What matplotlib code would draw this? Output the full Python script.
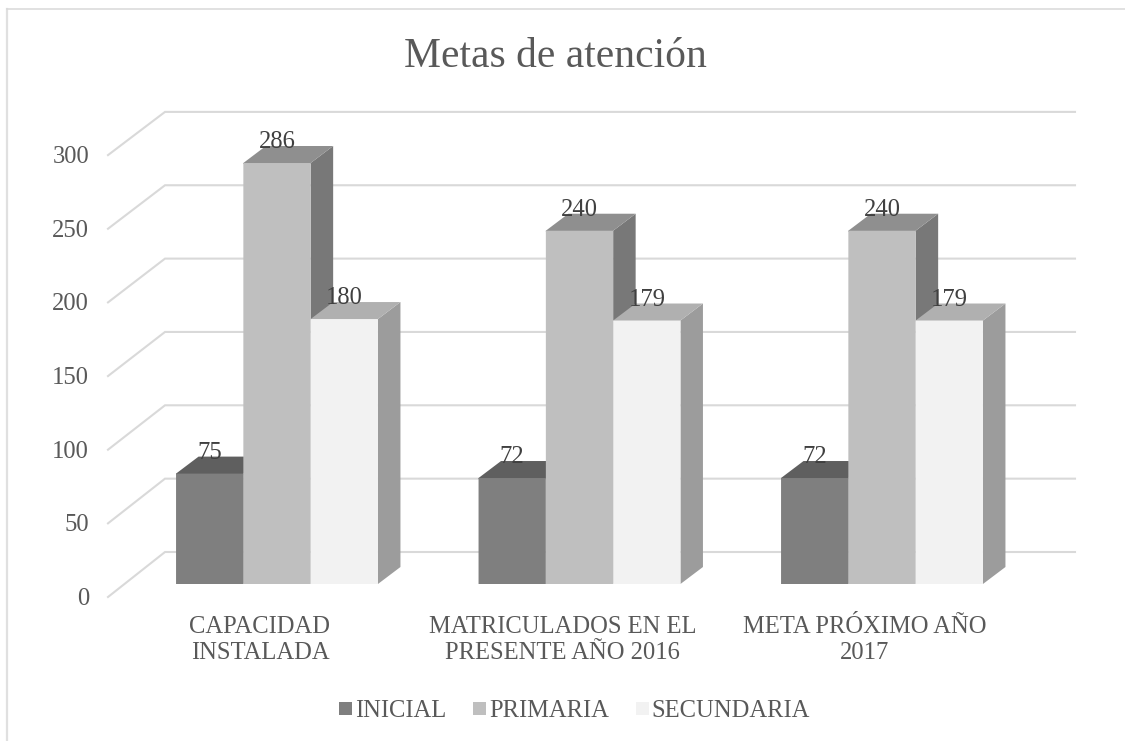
import matplotlib

matplotlib.use("Agg")
import matplotlib.pyplot as plt
from matplotlib.patches import Patch, Polygon, Rectangle

CATEGORIES = ["CAPACIDAD\nINSTALADA", "MATRICULADOS EN EL\nPRESENTE AÑO 2016", "META PRÓXIMO AÑO\n2017"]
SERIES = ["INICIAL", "PRIMARIA", "SECUNDARIA"]
INICIAL = [75, 72, 72]
PRIMARIA = [286, 240, 240]
SECUNDARIA = [180, 179, 179]
YTICKS = [0, 50, 100, 150, 200, 250, 300]

FRONT = ["#7f7f7f", "#bfbfbf", "#f2f2f2"]
TOP = ["#5f5f5f", "#8f8f8f", "#b0b0b0"]
SIDE = ["#666666", "#787878", "#9c9c9c"]
GRID = "#d9d9d9"
TXT = "#595959"

W, H = 1125, 741
X0, XSTEP = 277.0, 302.5  # pixel of first category, pixels per category
Y0, YSCALE = 584.0, 1.472  # pixel of value 0, pixels per unit

plt.rcParams["font.family"] = ["Liberation Serif", "DejaVu Serif"]
plt.rcParams["font.size"] = 17.7

fig = plt.figure(figsize=(W / 100, H / 100), dpi=100)
ax = fig.add_axes([0, 0, 1, 1])
ax.set_xlim(-X0 / XSTEP, (W - X0) / XSTEP)
ax.set_ylim((Y0 - H) / YSCALE, Y0 / YSCALE)
ax.axis("off")


def dx(px):
    return px / XSTEP


def dy(px):
    return px / YSCALE


# chart frame
fig.add_artist(plt.Line2D([7 / W, 7 / W], [0, 1 - 9 / H], color="#e0e0e0", lw=1.6))
fig.add_artist(plt.Line2D([7 / W, 1], [1 - 9 / H, 1 - 9 / H], color=GRID, lw=1.1))

# gridlines on the floor edge and back wall
x_front, x_back, x_end = dx(108 - X0), dx(165 - X0), dx(1075 - X0)
for v in YTICKS:
    y_front = v * 1.473 / YSCALE - dy(13)
    y_back = v * 1.467 / YSCALE + dy(32)
    ax.plot([x_front, x_back, x_end], [y_front, y_back, y_back], color=GRID, lw=1.5,
            solid_joinstyle="miter", zorder=1)
    ax.text(dx(89 - X0), y_front - dy(2), str(v), ha="right", va="center", color=TXT)

# 3d bars
bw = dx(67.3)
depth_x, depth_y = dx(22.5), dy(17)
for s, values in enumerate([INICIAL, PRIMARIA, SECUNDARIA]):
    for c, v in enumerate(values):
        left = c + (s - 1.5) * bw
        right = left + bw
        z = 2 + c + s * 0.1
        ax.add_patch(Polygon([(right, 0), (right + depth_x, depth_y), (right + depth_x, v + depth_y), (right, v)],
                             fc=SIDE[s], ec="none", zorder=z))
        # top face runs a pixel under the front face so no seam shows
        ax.add_patch(Polygon([(left, v - dy(1)), (left, v), (left + depth_x, v + depth_y),
                              (right + depth_x, v + depth_y), (right, v), (right, v - dy(1))],
                             fc=TOP[s], ec="none", zorder=z))
        ax.add_patch(Rectangle((left, 0), bw, v, fc=FRONT[s], ec="none", snap=False, zorder=z + 0.01))
        ax.text(left + bw / 2, v + dy(21), str(v), ha="center", va="center", color="#404040", zorder=10)

for c, label in enumerate(CATEGORIES):
    ax.text(c - dx(17), dy(-56), label, ha="center", va="center", color=TXT, linespacing=1.2)

ax.text(dx(555 - X0), dy(Y0 - 57), "Metas de atención", ha="center", va="center", color=TXT, fontsize=29.9)

handles = [Patch(fc=col, ec="none", label=name) for col, name in zip(FRONT, SERIES)]
ax.legend(handles=handles, loc="center", bbox_to_anchor=(574.5 / W, 1 - 711 / H), ncols=3, frameon=False,
          labelcolor=TXT, handlelength=0.53, handleheight=0.45, handletextpad=0.13,
          columnspacing=1.08, borderpad=0)

fig.savefig("out.png", dpi=100, facecolor="white")
